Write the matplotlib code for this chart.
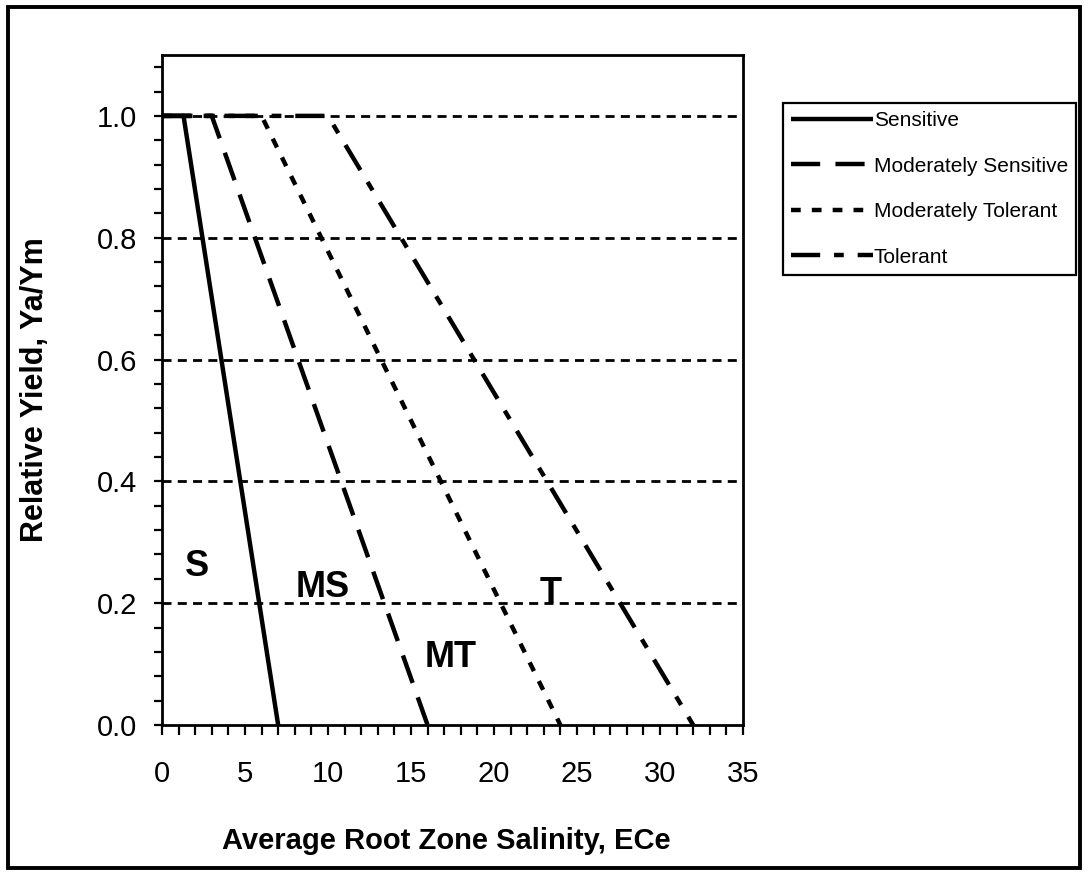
import matplotlib
matplotlib.use('Agg')
import matplotlib.pyplot as plt
from matplotlib.patches import Rectangle
from matplotlib.ticker import MultipleLocator

plt.rcParams['font.family'] = ['Liberation Sans', 'DejaVu Sans']
plt.rcParams['lines.scale_dashes'] = False

# salinity (ECe) break points and relative yield for each tolerance class
sensitive_x = [0, 1.3, 7]
sensitive_y = [1.0, 1.0, 0.0]
mod_sensitive_x = [0, 3, 16]
mod_sensitive_y = [1.0, 1.0, 0.0]
mod_tolerant_x = [0, 6, 24]
mod_tolerant_y = [1.0, 1.0, 0.0]
tolerant_x = [0, 10, 32]
tolerant_y = [1.0, 1.0, 0.0]

series_names = ['Sensitive', 'Moderately Sensitive', 'Moderately Tolerant', 'Tolerant']

# in-plot class labels
class_labels = ['S', 'MS', 'MT', 'T']
class_label_x = [2.1, 9.7, 17.4, 23.4]
class_label_y = [0.26, 0.226, 0.11, 0.216]

fig = plt.figure(figsize=(10.84, 8.74), dpi=100)
ax = fig.add_axes([0.1494, 0.1705, 0.5360, 0.7666])

lw = 3.2
ax.plot(sensitive_x, sensitive_y, color='black', lw=lw, label=series_names[0],
        solid_capstyle='butt')
ax.plot(mod_sensitive_x, mod_sensitive_y, color='black', lw=lw, label=series_names[1],
        dashes=(21, 11))
ax.plot(mod_tolerant_x, mod_tolerant_y, color='black', lw=lw, label=series_names[2],
        dashes=(7, 8))
ax.plot(tolerant_x, tolerant_y, color='black', lw=lw, label=series_names[3],
        dashes=(21, 10, 7, 10))

for lab, x, y in zip(class_labels, class_label_x, class_label_y):
    ax.text(x, y, lab, fontsize=26, fontweight='bold', ha='center', va='center')

ax.set_xlim(0, 35)
ax.set_ylim(0, 1.1)
ax.xaxis.set_major_locator(MultipleLocator(5))
ax.xaxis.set_minor_locator(MultipleLocator(1))
ax.set_yticks([0.0, 0.2, 0.4, 0.6, 0.8, 1.0])
ax.set_yticklabels(['0.0', '0.2', '0.4', '0.6', '0.8', '1.0'])
ax.yaxis.set_minor_locator(MultipleLocator(0.04))

ax.tick_params(axis='both', which='both', direction='out', width=1.6, labelsize=21)
ax.tick_params(axis='x', which='both', length=7, pad=18)
ax.tick_params(axis='y', which='both', length=6, pad=12)

for gy in [0.2, 0.4, 0.6, 0.8, 1.0]:
    ax.axhline(gy, color='black', lw=2.0, dashes=(6.5, 4.5), zorder=0)

for sp in ax.spines.values():
    sp.set_linewidth(2.0)

ax.set_xlabel('Average Root Zone Salinity, ECe', fontsize=21, fontweight='bold')
ax.set_ylabel('Relative Yield, Ya/Ym', fontsize=22, fontweight='bold')
ax.xaxis.set_label_coords(0.49, -0.152)
ax.yaxis.set_label_coords(-0.193, 0.5)

leg = fig.legend(loc='upper left', bbox_to_anchor=(0.7223, 0.8822),
                 bbox_transform=fig.transFigure, fontsize=15, frameon=True,
                 fancybox=False, edgecolor='black', framealpha=1,
                 handlelength=3.9, handletextpad=0.05, labelspacing=1.27,
                 borderpad=0.4, borderaxespad=0)
leg.get_frame().set_linewidth(1.6)

fig.add_artist(Rectangle((0.007, 0.007), 0.989, 0.985, transform=fig.transFigure,
                         fill=False, lw=2.8, edgecolor='black'))

fig.savefig('out.png', dpi=100)
